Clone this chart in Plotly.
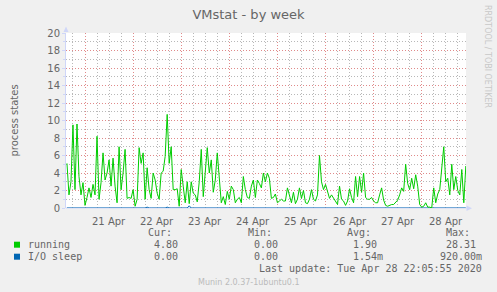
import plotly.graph_objects as go
import pandas as pd

# ---------------- data ----------------
start_time = "2020-04-20 15:00"   # first hourly sample
range_start = "2020-04-20 14:31"
range_end = "2020-04-28 22:06"

running = [
    5.1, 1.5, 3.0, 9.5, 2.1, 9.6, 3.6, 1.5, 2.9, 0.3,
    1.2, 2.3, 1.2, 2.7, 1.5, 8.2, 1.0, 2.9, 6.3, 3.2,
    4.0, 5.5, 2.5, 5.7, 2.5, 0.6, 7.0, 2.1, 4.0, 6.7,
    1.1, 1.2, 1.1, 2.1, 0.2, 1.0, 6.9, 5.1, 6.3, 1.0,
    4.6, 2.1, 1.1, 4.0, 3.2, 1.7, 1.0, 4.0, 4.2, 5.9,
    10.7, 5.1, 7.0, 2.1, 2.1, 2.2, 0.2, 4.4, 2.5, 0.6,
    3.0, 0.5, 3.0, 1.7, 1.5, 0.7, 3.0, 6.7, 1.3, 4.4,
    6.9, 4.0, 5.5, 1.8, 3.2, 6.3, 3.6, 0.6, 1.3, 0.4,
    1.9, 1.0, 2.5, 2.1, 0.6, 1.0, 1.2, 0.6, 3.6, 2.1,
    1.2, 1.1, 2.5, 3.2, 1.2, 3.2, 2.8, 2.3, 4.0, 3.0,
    4.0, 3.4, 1.1, 1.2, 1.6, 0.6, 0.8, 1.0, 0.8, 0.8,
    2.3, 1.3, 0.6, 1.8, 0.5, 1.0, 2.3, 1.1, 2.0, 0.6,
    0.5, 1.0, 2.1, 1.0, 0.8, 1.5, 6.0, 3.0, 2.1, 2.7,
    2.0, 1.1, 1.5, 1.1, 0.8, 0.4, 2.5, 1.0, 0.8, 0.3,
    0.8, 2.2, 1.2, 0.6, 3.6, 1.3, 3.6, 1.8, 4.0, 1.2,
    1.0, 1.0, 1.2, 0.8, 0.6, 0.6, 1.5, 2.3, 0.9, 0.3,
    0.2, 0.3, 0.4, 0.4, 0.6, 0.9, 1.5, 2.3, 1.9, 5.0,
    2.8, 2.1, 3.4, 2.2, 3.8, 2.5, 0.4, 0.1, 0.2, 0.6,
    0.1, 0.1, 0.0, 2.3, 0.6, 1.6, 2.1, 4.3, 7.0, 3.0,
    3.4, 1.5, 5.0, 2.1, 3.6, 2.0, 1.5, 4.4, 0.6, 4.8,
]

io_sleep = [
    0, 0, 0, 0, 0, 0, 0, 0, 0, 0,
    0, 0, 0, 0.08, 0, 0, 0, 0, 0, 0,
    0, 0, 0, 0, 0, 0, 0, 0, 0, 0,
    0, 0, 0, 0, 0, 0, 0, 0, 0, 0,
    0.1, 0, 0, 0, 0, 0, 0, 0, 0, 0,
    0.1, 0, 0, 0, 0, 0, 0, 0, 0, 0,
    0, 0.25, 0, 0, 0, 0, 0, 0, 0, 0,
    0, 0, 0, 0, 0, 0, 0, 0, 0, 0,
    0, 0, 0, 0, 0, 0, 0, 0, 0, 0,
    0, 0, 0, 0, 0, 0, 0, 0, 0, 0,
    0, 0, 0, 0, 0, 0, 0, 0, 0, 0,
    0, 0, 0, 0, 0, 0, 0, 0, 0, 0,
    0, 0, 0, 0, 0, 0, 0, 0, 0, 0,
    0, 0, 0, 0, 0, 0, 0, 0, 0, 0,
    0, 0, 0, 0, 0, 0, 0, 0, 0, 0,
    0, 0, 0, 0, 0, 0, 0, 0, 0, 0,
    0, 0, 0, 0, 0, 0, 0, 0, 0, 0,
    0, 0, 0, 0, 0, 0, 0, 0, 0, 0,
    0, 0, 0, 0, 0, 0, 0, 0, 0, 0,
    0, 0, 0, 0, 0, 0, 0, 0, 0, 0,
]

day_ticks = ["2020-04-21 12:00", "2020-04-22 12:00", "2020-04-23 12:00", "2020-04-24 12:00",
             "2020-04-25 12:00", "2020-04-26 12:00", "2020-04-27 12:00", "2020-04-28 12:00"]
day_labels = ["21 Apr", "22 Apr", "23 Apr", "24 Apr", "25 Apr", "26 Apr", "27 Apr", "28 Apr"]

series_names = ["running", "I/O sleep"]
series_colors = ["#00cc00", "#0066b3"]
stat_headers = ["Cur:", "Min:", "Avg:", "Max:"]
running_stats = ["4.80", "0.00", "1.90", "28.31"]
io_stats = ["0.00", "0.00", "1.54m", "920.00m"]

title_text = "VMstat - by week"
y_title = "process states"
last_update = "Last update: Tue Apr 28 22:05:55 2020"
footer = "Munin 2.0.37-1ubuntu0.1"
watermark = "RRDTOOL / TOBI OETIKER"

# ---------------- layout geometry ----------------
FW, FH = 497, 292
L, T, W, H = 66, 33, 400, 175
FONT = "#666666"
AXIS = "#CFD6F8"
MGRID = "#e08a8a"
GRID = "#b8b8b8"
MONO = "DejaVu Sans Mono"
SANS = "DejaVu Sans"


def px(x):
    return (x - L) / W


def py(y):
    return (T + H - y) / H


times = pd.date_range(start_time, periods=len(running), freq="h")
six_hourly = pd.date_range("2020-04-20 18:00", "2020-04-28 18:00", freq="6h")
t0, t1 = pd.Timestamp(range_start), pd.Timestamp(range_end)


def snap_time(t):
    """paper x of a time, snapped to a pixel centre so 1px lines stay crisp"""
    frac = (t - t0) / (t1 - t0)
    pix = L + frac * W
    return px(int(pix) + 0.5)


fig = go.Figure()
fig.add_trace(go.Scatter(x=times, y=io_sleep, mode="lines",
                         line=dict(color=series_colors[1], width=1),
                         name=series_names[1], hoverinfo="skip"))
fig.add_trace(go.Scatter(x=times, y=running, mode="lines",
                         line=dict(color=series_colors[0], width=1),
                         name=series_names[0], hoverinfo="skip"))

ann = []
for tv, tl in zip(day_ticks, day_labels):
    ann.append(dict(x=tv, xref="x", y=py(221), yref="paper", text=tl, showarrow=False,
                    font=dict(family=SANS, size=10, color=FONT), xanchor="center", yanchor="middle"))
ann.append(dict(x=px(14), y=py(120.5), xref="paper", yref="paper", text=y_title, textangle=-90,
                showarrow=False, font=dict(family=SANS, size=10, color=FONT),
                xanchor="center", yanchor="middle"))
ann.append(dict(x=px(488), y=py(56), xref="paper", yref="paper", text=watermark, textangle=90,
                showarrow=False, font=dict(family=SANS, size=8, color="#c8c8c8"),
                xanchor="center", yanchor="middle"))

header_right = [173, 273, 372, 471]
value_right = [185, 285, 384, 483]
for h, xr in zip(stat_headers, header_right):
    ann.append(dict(x=px(xr), y=py(232.7), xref="paper", yref="paper", text=h, showarrow=False,
                    font=dict(family=MONO, size=10, color=FONT), xanchor="right", yanchor="middle",
                    borderpad=0))
rows = [(series_names[0], running_stats, 244.7), (series_names[1], io_stats, 256.7)]
for name, stats, yy in rows:
    ann.append(dict(x=px(27), y=py(yy), xref="paper", yref="paper", text=name, showarrow=False,
                    font=dict(family=MONO, size=10, color=FONT), xanchor="left", yanchor="middle",
                    borderpad=0))
    for s, xr in zip(stats, value_right):
        right = xr if s.endswith("m") else xr - 6
        ann.append(dict(x=px(right), y=py(yy), xref="paper", yref="paper", text=s, showarrow=False,
                        font=dict(family=MONO, size=10, color=FONT), xanchor="right",
                        yanchor="middle", borderpad=0))
ann.append(dict(x=px(483), y=py(268.7), xref="paper", yref="paper", text=last_update,
                showarrow=False, font=dict(family=MONO, size=10, color=FONT),
                xanchor="right", yanchor="middle", borderpad=0))
ann.append(dict(x=px(248.5), y=py(282), xref="paper", yref="paper", text=footer,
                showarrow=False, font=dict(family=SANS, size=8, color="#bbbbbb"),
                xanchor="center", yanchor="middle", borderpad=0))

shapes = []
# white canvas drawn as the lowest shape (plot background is transparent so
# the vertical grid drawn just above it stays visible under the traces)
shapes.append(dict(type="rect", xref="paper", yref="paper", x0=0, x1=1, y0=0, y1=1,
                   fillcolor="#ffffff", line=dict(width=0), layer="below"))
# vertical grid: red dotted at midnight, grey dotted every 6 h
for t in six_hourly:
    xp = snap_time(t)
    is_midnight = t.hour == 0
    shapes.append(dict(type="line", xref="paper", yref="paper",
                       x0=xp, x1=xp, y0=0, y1=1, layer="below",
                       line=dict(color=MGRID if is_midnight else GRID, width=1,
                                 dash="1px,2px")))
for c, yy in zip(series_colors, [244.7, 256.7]):
    shapes.append(dict(type="rect", xref="paper", yref="paper",
                       x0=px(14), x1=px(20), y0=py(yy - 3), y1=py(yy + 3),
                       fillcolor=c, line=dict(width=0)))
shapes.append(dict(type="path", xref="paper", yref="paper",
                   path=f"M {px(63.5)},{py(32)} L {px(68.5)},{py(32)} L {px(66)},{py(26.5)} Z",
                   fillcolor=AXIS, line=dict(width=0)))
shapes.append(dict(type="path", xref="paper", yref="paper",
                   path=f"M {px(466.5)},{py(205.5)} L {px(466.5)},{py(211)} L {px(472)},{py(208.3)} Z",
                   fillcolor=AXIS, line=dict(width=0)))
shapes.append(dict(type="line", xref="paper", yref="paper", x0=px(66), x1=px(466.5),
                   y0=0, y1=0, line=dict(color=AXIS, width=1), layer="below"))

fig.update_layout(
    width=FW, height=FH,
    margin=dict(l=L, r=FW - L - W, t=T, b=FH - T - H, pad=0),
    paper_bgcolor="#f0f0f0", plot_bgcolor="rgba(0,0,0,0)",
    showlegend=False,
    title=dict(text=title_text, x=0.5, xref="container", xanchor="center",
               y=1 - 14 / FH, yref="container", yanchor="middle",
               font=dict(family=SANS, size=13, color=FONT)),
    xaxis=dict(type="date", range=[range_start, range_end],
               showticklabels=False, ticks="", showgrid=False,
               showline=False, zeroline=False),
    yaxis=dict(range=[0, 20], dtick=2, tick0=0,
               showgrid=True, gridcolor=MGRID, griddash="1px,2px", gridwidth=1,
               minor=dict(dtick=1, showgrid=True, gridcolor=GRID, griddash="1px,2px",
                          ticks="outside", ticklen=2, tickcolor=AXIS),
               showline=True, linecolor=AXIS, linewidth=1,
               ticks="outside", ticklen=3, tickcolor=AXIS,
               tickfont=dict(family=SANS, size=10, color=FONT),
               zeroline=False),
    annotations=ann,
    shapes=shapes,
)

fig.write_html("out.html", config={"displayModeBar": False})
